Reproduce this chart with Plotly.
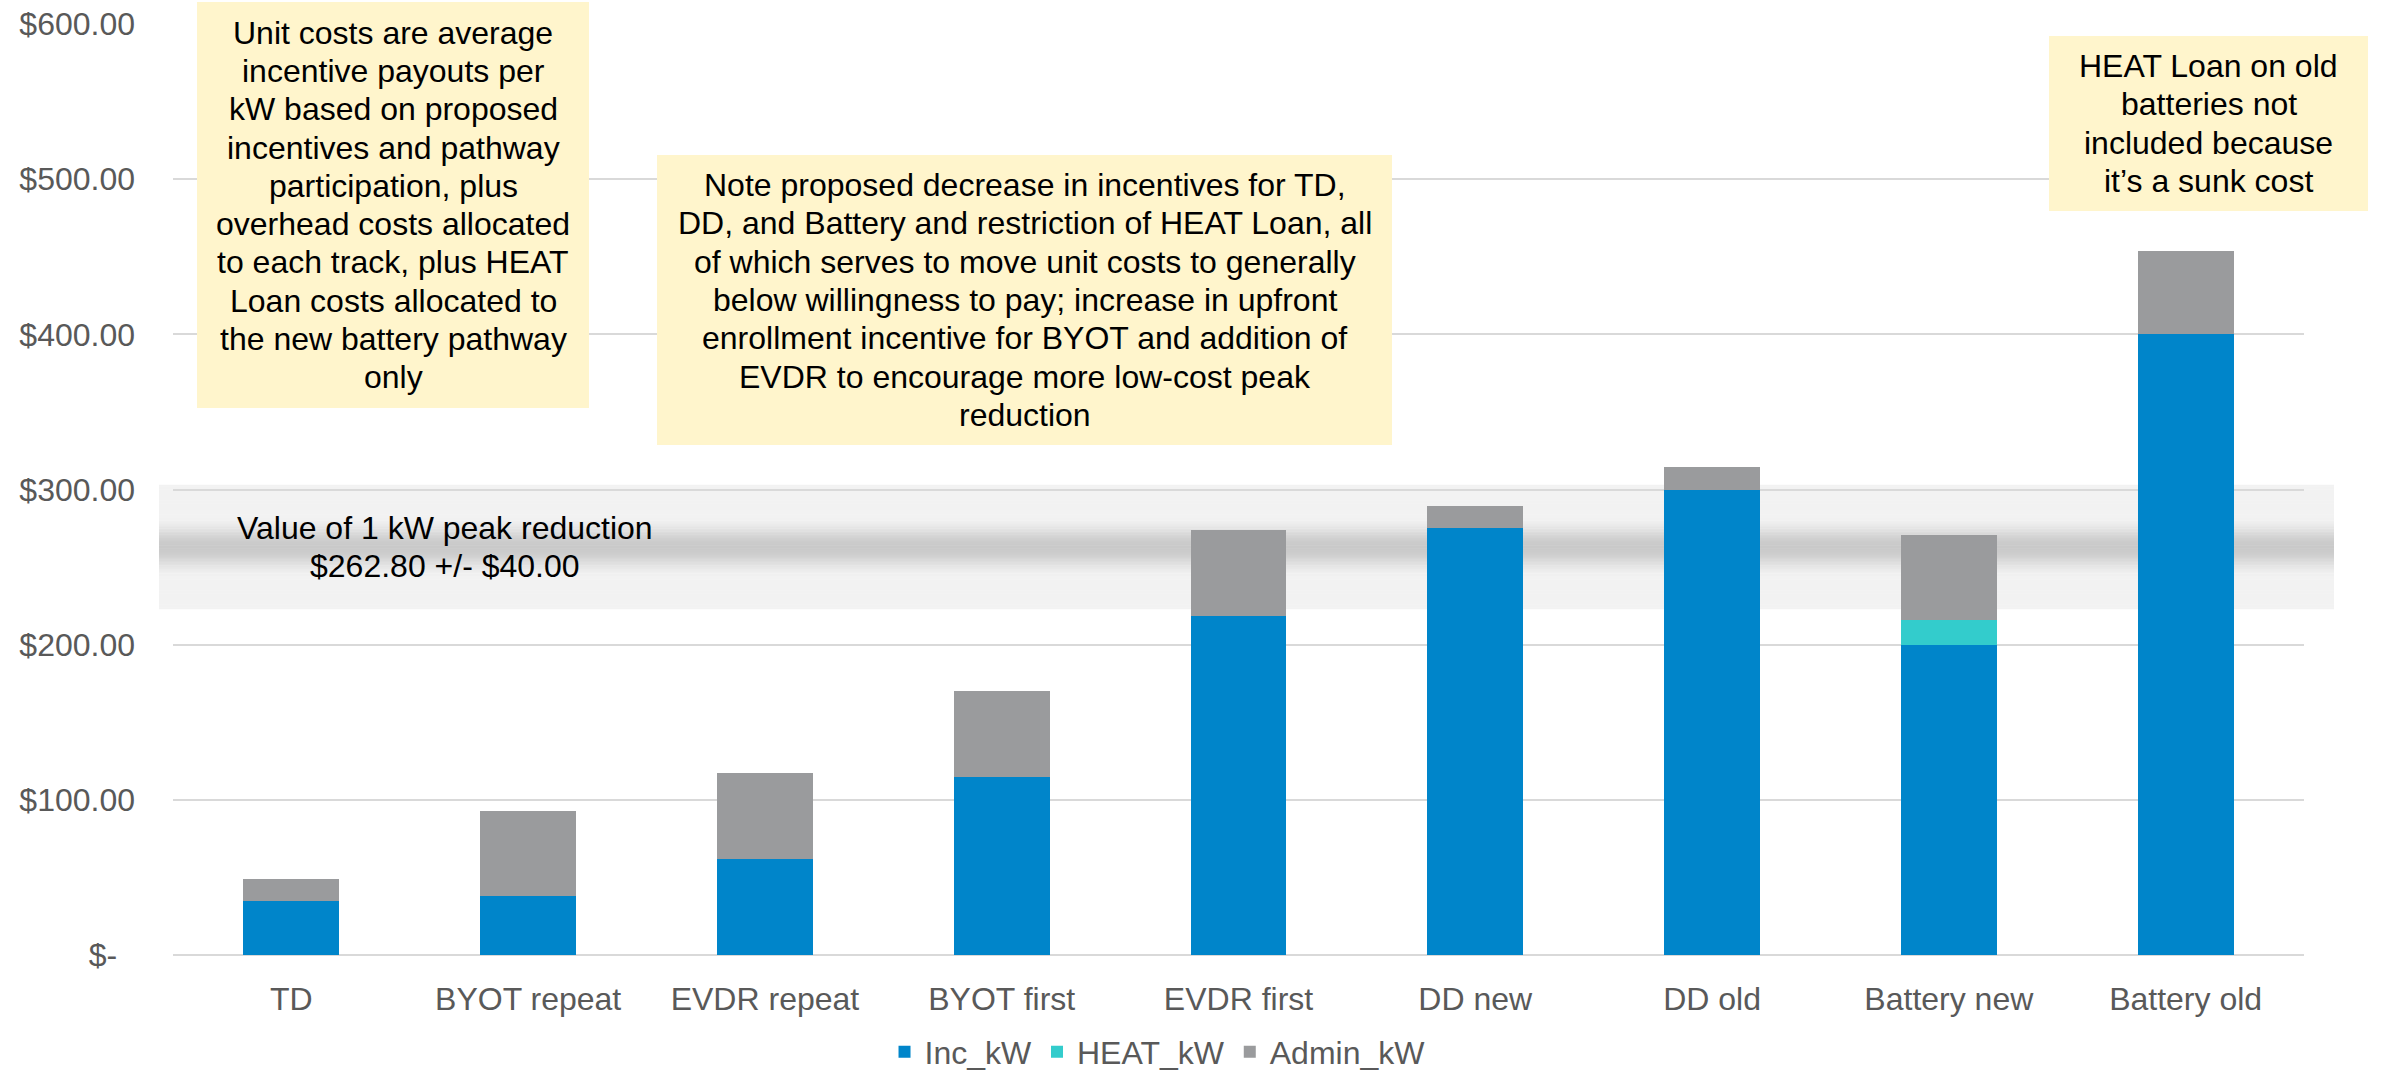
import math
import plotly.graph_objects as go

# ---- data ----
categories = ["TD", "BYOT repeat", "EVDR repeat", "BYOT first", "EVDR first",
              "DD new", "DD old", "Battery new", "Battery old"]
inc_kw = [34.5, 38.0, 62.0, 115.0, 218.6, 275.0, 300.0, 200.0, 400.0]
heat_kw = [0, 0, 0, 0, 0, 0, 0, 16.0, 0]
admin_kw = [14.5, 54.5, 55.0, 55.0, 55.0, 14.3, 14.2, 54.5, 54.0]

y_ticks = [0, 100, 200, 300, 400, 500, 600]
y_tick_labels = ["$-\u00a0\u00a0", "$100.00", "$200.00", "$300.00",
                 "$400.00", "$500.00", "$600.00"]

peak_value = 262.8
peak_margin = 40.0

# ---- layout geometry (pixels) ----
W, H = 2384, 1071
M_L, M_R, M_T, M_B = 173, 80, 24, 116
PLOT_W = W - M_L - M_R
PLOT_H = H - M_T - M_B
Y_MAX = 600

FONT = "Arial, Liberation Sans, sans-serif"
AXIS_GREY = "#595959"
GRID = "#D9D9D9"
NOTE_FILL = "#FFF5CC"


def px2x(px):
    return (px - M_L) / PLOT_W


def px2y(py):
    return (H - M_B - py) / PLOT_H


def val2py(v):
    return H - M_B - v * PLOT_H / Y_MAX


fig = go.Figure()

fig.add_trace(go.Bar(name="Inc_kW", x=categories, y=inc_kw,
                     marker=dict(color="#0085CA", line=dict(width=0))))
fig.add_trace(go.Bar(name="HEAT_kW", x=categories, y=heat_kw,
                     marker=dict(color="#33CCCC", line=dict(width=0))))
fig.add_trace(go.Bar(name="Admin_kW", x=categories, y=admin_kw,
                     marker=dict(color="#9A9B9D", line=dict(width=0))))

# ---- shaded band for the value of 1 kW peak reduction (soft dark centre) ----
band_lo = peak_value - peak_margin
band_hi = peak_value + peak_margin
n_slices = 80
step = (band_hi - band_lo) / n_slices
for i in range(n_slices):
    y0 = band_lo + i * step
    y1 = y0 + step
    mid = (y0 + y1) / 2
    d = abs(mid - peak_value)
    spread = 20.0
    t = math.cos(math.pi * d / (2 * spread)) ** 2 if d < spread else 0.0
    g = int(round(242 - (242 - 201) * t))
    fig.add_shape(type="rect", xref="paper", yref="y",
                  x0=px2x(159), x1=px2x(2334), y0=y0, y1=y1 + step * 0.3,
                  fillcolor=f"rgb({g},{g},{g})", line=dict(width=0),
                  layer="below")

# ---- yellow note boxes ----
notes = [
    dict(box=(197, 2, 589, 408),
         lines=["Unit costs are average", "incentive payouts per",
                "kW based on proposed", "incentives and pathway",
                "participation, plus", "overhead costs allocated",
                "to each track, plus HEAT", "Loan costs allocated to",
                "the new battery pathway", "only"]),
    dict(box=(657, 155, 1392, 445),
         lines=["Note proposed decrease in incentives for TD,",
                "DD, and Battery and restriction of HEAT Loan, all",
                "of which serves to move unit costs to generally",
                "below willingness to pay; increase in upfront",
                "enrollment incentive for BYOT and addition of",
                "EVDR to encourage more low-cost peak",
                "reduction"]),
    dict(box=(2049, 36, 2368, 211),
         lines=["HEAT Loan on old", "batteries not",
                "included because", "it\u2019s a sunk cost"]),
]

PITCH = 38.3


def add_lines(lines, cx, cy, size=32, color="black"):
    n = len(lines)
    for i, line in enumerate(lines):
        py = cy + (i - (n - 1) / 2) * PITCH
        fig.add_annotation(x=px2x(cx), y=px2y(py), xref="paper", yref="paper",
                           text=line, showarrow=False, xanchor="center",
                           yanchor="middle",
                           font=dict(size=size, color=color, family=FONT))


for note in notes:
    x0, y0, x1, y1 = note["box"]
    fig.add_shape(type="rect", xref="paper", yref="paper",
                  x0=px2x(x0), x1=px2x(x1), y0=px2y(y1), y1=px2y(y0),
                  fillcolor=NOTE_FILL, line=dict(width=0), layer="above")
    add_lines(note["lines"], (x0 + x1) / 2, (y0 + y1) / 2)

add_lines(["Value of 1 kW peak reduction",
           f"${peak_value:.2f} +/- ${peak_margin:.2f}"],
          445, val2py(peak_value))

fig.update_layout(
    barmode="stack",
    bargap=0.595,
    width=W, height=H,
    margin=dict(l=M_L, r=M_R, t=M_T, b=M_B, pad=0, autoexpand=False),
    paper_bgcolor="white",
    plot_bgcolor="white",
    font=dict(family=FONT, size=32, color=AXIS_GREY),
    showlegend=True,
    legend=dict(orientation="h", x=0.462, xanchor="center",
                y=px2y(1052), yanchor="middle",
                font=dict(size=32, color=AXIS_GREY),
                itemwidth=30, traceorder="normal",
                bgcolor="rgba(0,0,0,0)"),
)

fig.update_xaxes(
    type="category",
    showgrid=False,
    showline=False,
    ticks="",
    automargin=False,
    ticklabelstandoff=22,
    tickfont=dict(size=32, color=AXIS_GREY, family=FONT),
)

fig.update_yaxes(
    range=[0, Y_MAX],
    tickmode="array",
    tickvals=y_ticks,
    ticktext=y_tick_labels,
    showgrid=True,
    gridcolor=GRID,
    gridwidth=2,
    zeroline=True,
    zerolinecolor=GRID,
    zerolinewidth=2,
    showline=False,
    ticks="",
    automargin=False,
    ticklabelstandoff=37,
    tickfont=dict(size=32, color=AXIS_GREY, family=FONT),
)

fig.write_html("out.html")
